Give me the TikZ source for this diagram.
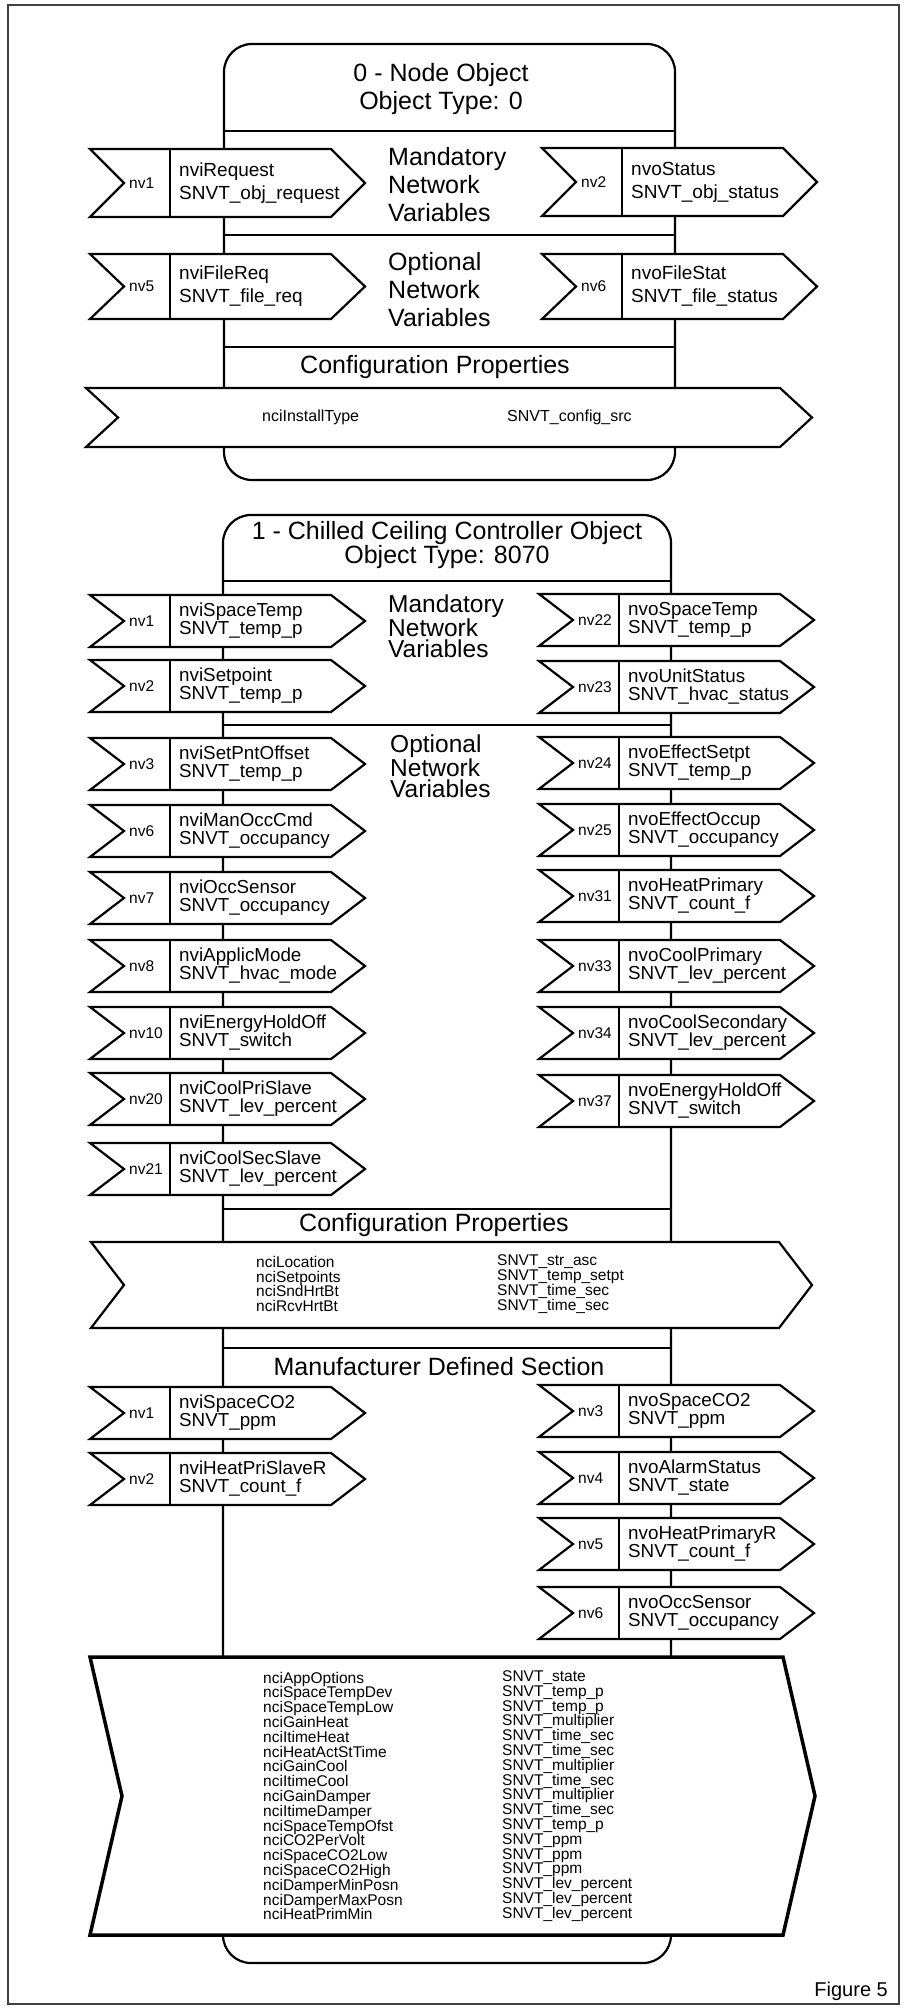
\documentclass[tikz,border=0pt]{standalone}
\usepackage{fontspec}
\setmainfont{Liberation Sans}
\usetikzlibrary{calc}

% chevron band: [style] x, top, width, height, point depth
\newcommand{\chevron}[6][]{%
  \draw[nvshape,#1] (#2,#3) -- ++(#4-#6,0) -- ++(#6,#5/2) -- ++(-#6,#5/2)
    -- ++(-#4+#6,0) -- ++(#6,-#5/2) -- cycle;}
% network variable: name, x, top, height, number, text
\newcommand{\nvarrow}[6]{%
  \chevron{#2}{#3}{275}{#4}{34}
  \draw[outline] (#2+80,#3) -- ++(0,#4);
  \node[nvnum] (#1n) at (#2+39,#3+#4/2) {#5};
  \node[nvtxt] (#1) at (#2+89,#3+#4/2) {#6};}

\begin{document}
\begin{tikzpicture}[x=1pt,y=-1pt,
    outline/.style={line width=2.2pt,line join=miter},
    nvshape/.style={outline,fill=white},
    objbox/.style={draw,line width=2.2pt,rounded corners=28pt,inner sep=0pt},
    nvnum/.style={anchor=west,inner sep=0pt,font=\fontsize{15.5}{18}\selectfont},
    nvtxt/.style={anchor=west,inner sep=0pt,align=left,font=\fontsize{19}{23}\selectfont},
    head/.style={inner sep=0pt,align=center,font=\fontsize{25}{28}\selectfont},
    sect/.style={anchor=west,inner sep=0pt,align=left,font=\fontsize{25}{28}\selectfont},
    cplist/.style={anchor=west,inner sep=0pt,align=left,font=\fontsize{15.5}{14.8}\selectfont}]
  \useasboundingbox (0,0) rectangle (909,2009);
  % frame
  \draw[line width=1.3pt,black!75] (8,5) rectangle (899,2004);

  % 0 - node object
  \node[objbox,minimum width=451pt,minimum height=436pt] (obj0) at (449.5,262) {};
  \foreach \yy in {131,235,347}
    \draw[outline] (obj0.west |- 0,\yy) -- (obj0.east |- 0,\yy);
  \node[head] (title0) at (441,89) {0 - Node Object\\Object Type: 0};
  \node[sect] (mand0) at (388,185) {Mandatory\\Network\\Variables};
  \node[sect] (opt0) at (388,290) {Optional\\Network\\Variables};
  \node[head] (conf0) at (435,367) {Configuration Properties};
  \nvarrow{in1}{90}{149}{68}{nv1}{nviRequest\\SNVT\_obj\_request}
  \nvarrow{out2}{542}{148}{68}{nv2}{nvoStatus\\SNVT\_obj\_status}
  \nvarrow{in5}{90}{254}{65}{nv5}{nviFileReq\\SNVT\_file\_req}
  \nvarrow{out6}{542}{254}{65}{nv6}{nvoFileStat\\SNVT\_file\_status}
  \chevron{86}{388}{726}{59}{32}
  \node[cplist,font=\fontsize{16}{18}\selectfont] (ci0) at (262,417) {nciInstallType};
  \node[cplist,font=\fontsize{16}{18}\selectfont] (cs0) at (507,417) {SNVT\_config\_src};

  % 1 - chilled ceiling controller object
  \node[objbox,minimum width=448pt,minimum height=1448pt] (obj1) at (447,1239) {};
  \foreach \yy in {581,725,1209,1348}
    \draw[outline] (obj1.west |- 0,\yy) -- (obj1.east |- 0,\yy);
  \node[head,font=\fontsize{25}{24}\selectfont] (title1) at (447,545)
    {1 - Chilled Ceiling Controller Object\\Object Type: 8070};
  \begin{scope}[nvtxt/.append style={font=\fontsize{18.8}{18}\selectfont},
                sect/.append style={font=\fontsize{24.5}{21}\selectfont}]
  \node[sect] (mand1) at (388,626) {Mandatory\\Network\\Variables};
  \node[sect] (opt1) at (390,766) {Optional\\Network\\Variables};
  \node[head] (conf1) at (434,1225) {Configuration Properties};
  \node[head] (mfr1) at (439,1367) {Manufacturer Defined Section};
  % inputs
  \foreach \nm/\yy/\nv/\txt in {i1/595/nv1/nviSpaceTemp\\SNVT\_temp\_p,
      i2/660/nv2/nviSetpoint\\SNVT\_temp\_p, i3/738/nv3/nviSetPntOffset\\SNVT\_temp\_p,
      i6/805/nv6/nviManOccCmd\\SNVT\_occupancy, i7/872/nv7/nviOccSensor\\SNVT\_occupancy,
      i8/940/nv8/nviApplicMode\\SNVT\_hvac\_mode, i10/1007/nv10/nviEnergyHoldOff\\SNVT\_switch,
      i20/1073/nv20/nviCoolPriSlave\\SNVT\_lev\_percent,
      i21/1143/nv21/nviCoolSecSlave\\SNVT\_lev\_percent,
      mi1/1387/nv1/nviSpaceCO2\\SNVT\_ppm, mi2/1453/nv2/nviHeatPriSlaveR\\SNVT\_count\_f}
    {\nvarrow{\nm}{90}{\yy}{52}{\nv}{\txt}}
  % outputs
  \foreach \nm/\yy/\nv/\txt in {o22/594/nv22/nvoSpaceTemp\\SNVT\_temp\_p,
      o23/661/nv23/nvoUnitStatus\\SNVT\_hvac\_status,
      o24/737/nv24/nvoEffectSetpt\\SNVT\_temp\_p,
      o25/804/nv25/nvoEffectOccup\\SNVT\_occupancy,
      o31/870/nv31/nvoHeatPrimary\\SNVT\_count\_f,
      o33/940/nv33/nvoCoolPrimary\\SNVT\_lev\_percent,
      o34/1007/nv34/nvoCoolSecondary\\SNVT\_lev\_percent,
      o37/1075/nv37/nvoEnergyHoldOff\\SNVT\_switch,
      mo3/1385/nv3/nvoSpaceCO2\\SNVT\_ppm, mo4/1452/nv4/nvoAlarmStatus\\SNVT\_state,
      mo5/1518/nv5/nvoHeatPrimaryR\\SNVT\_count\_f,
      mo6/1587/nv6/nvoOccSensor\\SNVT\_occupancy}
    {\nvarrow{\nm}{539}{\yy}{52}{\nv}{\txt}}
  \end{scope}
  % configuration properties
  \chevron{91}{1242}{721}{86}{33}
  \node[cplist] (ci1) at (256,1284) {nciLocation\\nciSetpoints\\nciSndHrtBt\\nciRcvHrtBt};
  \node[cplist] (cs1) at (497,1284)
    {SNVT\_str\_asc\\SNVT\_temp\_setpt\\SNVT\_time\_sec\\SNVT\_time\_sec};
  % manufacturer configuration properties
  \chevron[line width=3.5pt]{90}{1657}{725}{278}{32}
  \node[cplist] (mci1) at (263,1796) {nciAppOptions\\nciSpaceTempDev\\nciSpaceTempLow\\
    nciGainHeat\\nciItimeHeat\\nciHeatActStTime\\nciGainCool\\nciItimeCool\\
    nciGainDamper\\nciItimeDamper\\nciSpaceTempOfst\\nciCO2PerVolt\\nciSpaceCO2Low\\
    nciSpaceCO2High\\nciDamperMinPosn\\nciDamperMaxPosn\\nciHeatPrimMin};
  \node[cplist] (mcs1) at (502,1796) {SNVT\_state\\SNVT\_temp\_p\\SNVT\_temp\_p\\
    SNVT\_multiplier\\SNVT\_time\_sec\\SNVT\_time\_sec\\SNVT\_multiplier\\
    SNVT\_time\_sec\\SNVT\_multiplier\\SNVT\_time\_sec\\SNVT\_temp\_p\\SNVT\_ppm\\
    SNVT\_ppm\\SNVT\_ppm\\SNVT\_lev\_percent\\SNVT\_lev\_percent\\SNVT\_lev\_percent};

  \node[anchor=east,inner sep=0pt,font=\fontsize{20}{22}\selectfont] (fig) at (888,1991) {Figure 5};
\end{tikzpicture}
\end{document}
